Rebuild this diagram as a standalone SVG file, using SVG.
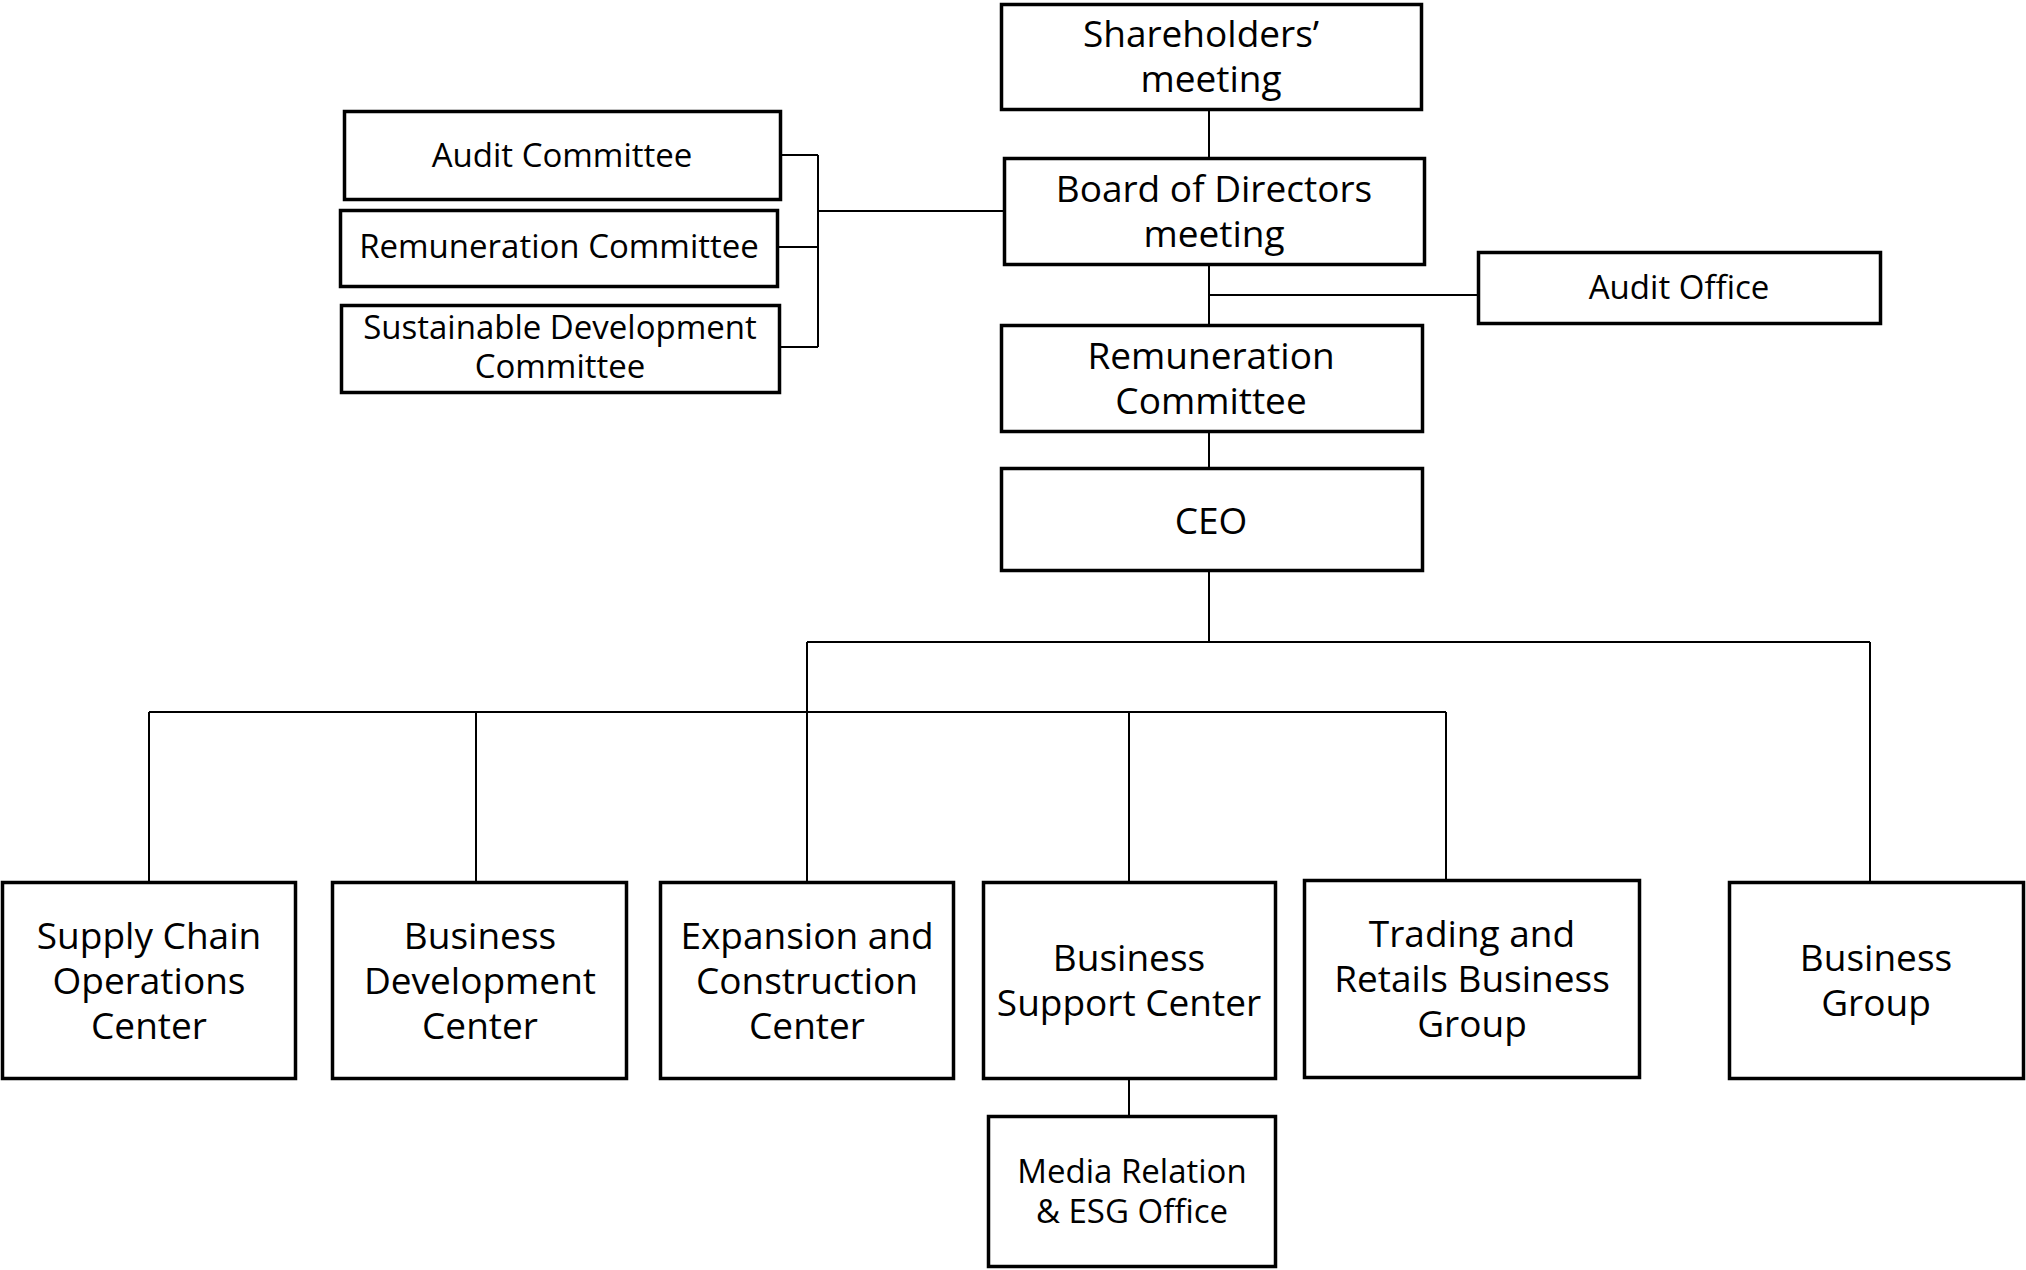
<svg xmlns="http://www.w3.org/2000/svg" width="2026" height="1270" viewBox="0 0 2026 1270">
<style>
.box{fill:#fff;stroke:#000;stroke-width:3.5}
.conn{stroke:#000;stroke-width:2;fill:none}
text{font-family:"Open Sans","Noto Sans",sans-serif;fill:#000;text-anchor:middle}
.big{font-size:37px}
.small{font-size:33px}
</style>
<rect width="2026" height="1270" fill="#fff"/>
<g id="connectors">
<path class="conn" d="M1209 111V157M1209 266V324M1209 295H1477M1209 433V467M1209 572V642M807 642H1870M149 712H1446"/>
<path class="conn" d="M149 712V882M476 712V882M807 642V882M1129 712V882M1446 712V880M1870 642V882M1129 1080V1116"/>
<path class="conn" d="M782 155H818M779 247H818M781 347H818M818 155V347M818 211H1003"/>
</g>
<g id="shareholders"><rect class="box" x="1001.5" y="4.5" width="420" height="105"/><text class="big" y="47"><tspan x="1201">Shareholders’</tspan><tspan x="1211" dy="45">meeting</tspan></text></g>
<g id="board"><rect class="box" x="1004.5" y="158.5" width="420" height="106"/><text class="big" y="202"><tspan x="1214">Board of Directors</tspan><tspan x="1214" dy="45">meeting</tspan></text></g>
<g id="audit-office"><rect class="box" x="1478.5" y="252.5" width="402" height="71"/><text class="small" x="1679" y="299">Audit Office</text></g>
<g id="remuneration-main"><rect class="box" x="1001.5" y="325.5" width="421" height="106"/><text class="big" y="369"><tspan x="1211">Remuneration</tspan><tspan x="1211" dy="45">Committee</tspan></text></g>
<g id="ceo"><rect class="box" x="1001.5" y="468.5" width="421" height="102"/><text class="big" x="1211" y="534">CEO</text></g>
<g id="audit-committee"><rect class="box" x="344.5" y="111.5" width="436" height="88"/><text class="small" x="562" y="167">Audit Committee</text></g>
<g id="remuneration-committee"><rect class="box" x="340.5" y="210.5" width="437" height="76"/><text class="small" x="559" y="258">Remuneration Committee</text></g>
<g id="sustainable"><rect class="box" x="341.5" y="305.5" width="438" height="87"/><text class="small" y="339"><tspan x="560">Sustainable Development</tspan><tspan x="560" dy="39">Committee</tspan></text></g>
<g id="supply-chain"><rect class="box" x="2.5" y="882.5" width="293" height="196"/><text class="big" y="949"><tspan x="149">Supply Chain</tspan><tspan x="149" dy="45">Operations</tspan><tspan x="149" dy="45">Center</tspan></text></g>
<g id="business-development"><rect class="box" x="332.5" y="882.5" width="294" height="196"/><text class="big" y="949"><tspan x="480">Business</tspan><tspan x="480" dy="45">Development</tspan><tspan x="480" dy="45">Center</tspan></text></g>
<g id="expansion"><rect class="box" x="660.5" y="882.5" width="293" height="196"/><text class="big" y="949"><tspan x="807">Expansion and</tspan><tspan x="807" dy="45">Construction</tspan><tspan x="807" dy="45">Center</tspan></text></g>
<g id="business-support"><rect class="box" x="983.5" y="882.5" width="292" height="196"/><text class="big" y="971"><tspan x="1129">Business</tspan><tspan x="1129" dy="45">Support Center</tspan></text></g>
<g id="trading"><rect class="box" x="1304.5" y="880.5" width="335" height="197"/><text class="big" y="947"><tspan x="1472">Trading and</tspan><tspan x="1472" dy="45">Retails Business</tspan><tspan x="1472" dy="45">Group</tspan></text></g>
<g id="business-group"><rect class="box" x="1729.5" y="882.5" width="294" height="196"/><text class="big" y="971"><tspan x="1876">Business</tspan><tspan x="1876" dy="45">Group</tspan></text></g>
<g id="media"><rect class="box" x="988.5" y="1116.5" width="287" height="150"/><text class="small" y="1183"><tspan x="1132">Media Relation</tspan><tspan x="1132" dy="40">&amp; ESG Office</tspan></text></g>
</svg>
